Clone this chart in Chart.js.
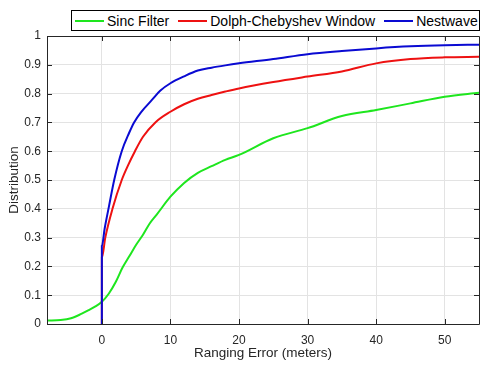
<!DOCTYPE html>
<html>
<head>
<meta charset="utf-8">
<script src="https://cdn.jsdelivr.net/npm/chart.js@4/dist/chart.umd.min.js"></script>
<style>
  html, body { margin: 0; padding: 0; background: #fff; }
  #wrap { position: relative; width: 486px; height: 381px; }
  #legend {
    position: absolute; left: 71px; top: 10px; width: 407px; height: 19px;
    border: 1px solid #000; background: #fff; display: flex; align-items: center;
    font-family: "Liberation Sans", Arial, sans-serif; font-size: 14px; color: #000;
    box-sizing: content-box;
  }
  .item { display: flex; align-items: center; }
  .ln { display: inline-block; width: 29px; height: 2px; margin-right: 3px; }
  .txt { margin-right: 9px; white-space: nowrap; }
</style>
</head>
<body>
<div id="wrap">
  <canvas id="c" width="486" height="381"></canvas>
  <div id="legend"></div>
</div>
<script>
const seriesNames = ["Sinc Filter", "Dolph-Chebyshev Window", "Nestwave"];
const seriesColors = ["#1ee61e", "#ee1111", "#0a0ad2"];

const sincX = [-8, -6, -4.5, -3, -2, -1, 0, 1, 2, 3, 4, 5, 6, 7, 8, 10, 12, 14, 16, 18, 20, 25, 30, 35, 40, 45, 50, 55];
const sincY = [0.012, 0.014, 0.02, 0.035, 0.047, 0.06, 0.077, 0.105, 0.145, 0.195, 0.235, 0.275, 0.31, 0.35, 0.38, 0.442, 0.49, 0.525, 0.548, 0.57, 0.587, 0.645, 0.68, 0.722, 0.743, 0.766, 0.789, 0.803];

const dolphX = [0, 0, 0.5, 1.55, 2.9, 3.8, 4.83, 6, 7.8, 10, 12, 14, 16, 18, 20, 25, 30, 35, 40, 45, 50, 55];
const dolphY = [0, 0.23, 0.30, 0.40, 0.50, 0.55, 0.60, 0.65, 0.70, 0.737, 0.763, 0.782, 0.795, 0.807, 0.818, 0.84, 0.859, 0.877, 0.905, 0.92, 0.926, 0.928];

const nestX = [0, 0, 0.4, 1.05, 1.8, 2.9, 4.0, 4.7, 5.7, 7.3, 8.5, 10, 12, 14, 16, 18, 20, 25, 30, 35, 40, 45, 50, 55];
const nestY = [0, 0.27, 0.33, 0.41, 0.50, 0.60, 0.665, 0.70, 0.735, 0.778, 0.81, 0.836, 0.86, 0.88, 0.89, 0.898, 0.905, 0.92, 0.937, 0.948, 0.957, 0.964, 0.968, 0.97];

const xTicks = [0, 10, 20, 30, 40, 50];
const yTicks = [0, 0.1, 0.2, 0.3, 0.4, 0.5, 0.6, 0.7, 0.8, 0.9, 1];

const xMin = -8, xMax = 55;
const xTitle = "Ranging Error (meters)";
const yTitle = "Distribution";

function pts(xs, ys) { return xs.map((x, i) => ({ x: x, y: ys[i] })); }

// HTML legend
const legend = document.getElementById('legend');
legend.innerHTML = seriesNames.map((n, i) =>
  `<span class="item" style="${i === 0 ? 'margin-left:3px' : ''}"><span class="ln" style="background:${seriesColors[i]}"></span><span class="txt"${i === 2 ? ' style="margin-right:0"' : ''}>${n}</span></span>`
).join('');

const FONT = '"Liberation Sans", Arial, sans-serif';
const AX = '#262626';

const framePlugin = {
  id: 'frame',
  afterDraw(chart) {
    const ctx = chart.ctx, a = chart.chartArea;
    const xs = chart.scales.x, ys = chart.scales.y;
    ctx.save();
    ctx.strokeStyle = AX;
    ctx.lineWidth = 1;
    ctx.beginPath();
    ctx.rect(Math.round(a.left) + 0.5, Math.round(a.top) + 0.5, Math.round(a.right - a.left), Math.round(a.bottom - a.top));
    ctx.stroke();
    const L = 5;
    ctx.beginPath();
    xTicks.forEach(v => {
      const p = Math.round(xs.getPixelForValue(v)) + 0.5;
      ctx.moveTo(p, a.bottom); ctx.lineTo(p, a.bottom - L);
      ctx.moveTo(p, a.top); ctx.lineTo(p, a.top + L);
    });
    yTicks.forEach(v => {
      const p = Math.round(ys.getPixelForValue(v)) + 0.5;
      ctx.moveTo(a.left, p); ctx.lineTo(a.left + L, p);
      ctx.moveTo(a.right, p); ctx.lineTo(a.right - L, p);
    });
    ctx.stroke();
    ctx.restore();
  }
};

const bgPlugin = {
  id: 'bg',
  beforeDraw(chart) {
    const ctx = chart.ctx;
    ctx.save(); ctx.fillStyle = '#fff'; ctx.fillRect(0, 0, chart.width, chart.height); ctx.restore();
  }
};

new Chart(document.getElementById('c'), {
  type: 'line',
  data: {
    datasets: [
      { label: seriesNames[0], data: pts(sincX, sincY), borderColor: seriesColors[0], order: 3 },
      { label: seriesNames[1], data: pts(dolphX, dolphY), borderColor: seriesColors[1], order: 2 },
      { label: seriesNames[2], data: pts(nestX, nestY), borderColor: seriesColors[2], order: 1 }
    ].map(d => Object.assign(d, { borderWidth: 2, pointRadius: 0, fill: false, cubicInterpolationMode: 'monotone' }))
  },
  options: {
    responsive: false,
    animation: false,
    layout: { padding: { top: 36, right: 7, left: 0, bottom: 0 } },
    plugins: { legend: { display: false }, tooltip: { enabled: false } },
    scales: {
      x: {
        type: 'linear', min: xMin, max: xMax,
        afterBuildTicks(s) { s.ticks = xTicks.map(v => ({ value: v })); },
        afterFit(s) { s.height = 57; },
        grid: { color: '#e3e3e3', drawTicks: false },
        border: { display: false },
        ticks: { padding: 9, color: AX, font: { family: FONT, size: 12 }, maxRotation: 0 },
        title: { display: true, text: xTitle, color: AX, font: { family: FONT, size: 13.5 }, padding: { top: 0, bottom: 20 } }
      },
      y: {
        type: 'linear', min: 0, max: 1,
        afterBuildTicks(s) { s.ticks = yTicks.map(v => ({ value: v })); },
        afterFit(s) { s.width = 47; },
        grid: { color: '#e3e3e3', drawTicks: false },
        border: { display: false },
        ticks: { padding: 6, color: AX, font: { family: FONT, size: 12 }, callback: v => String(Number(v.toFixed(1))) },
        title: { display: true, text: yTitle, color: AX, font: { family: FONT, size: 13.5 }, padding: { top: 6, bottom: 0 } }
      }
    }
  },
  plugins: [bgPlugin, framePlugin]
});
</script>
</body>
</html>
